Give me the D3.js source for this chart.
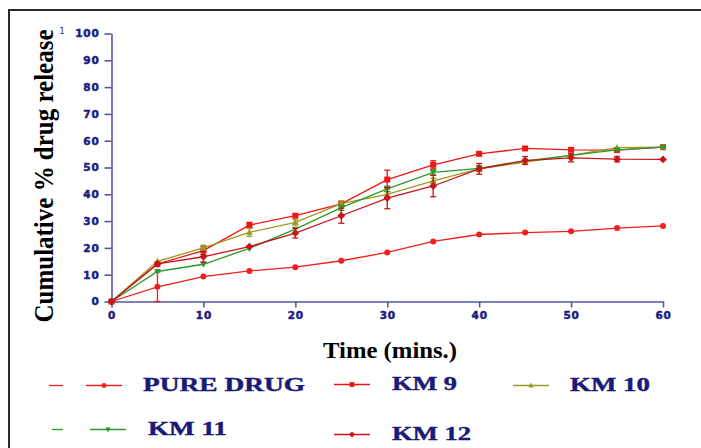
<!DOCTYPE html>
<html>
<head>
<meta charset="utf-8">
<script src="https://d3js.org/d3.v7.min.js"></script>
<style>
  body { margin: 0; background: #fff; }
  svg { display: block; }
</style>
</head>
<body>
<div id="container"></div>
<script>
var width = 701, height = 448;

// Data
var times = [0, 5, 10, 15, 20, 25, 30, 35, 40, 45, 50, 55, 60];
var pureDrug = [0, 5.5, 9.3, 11.4, 12.8, 15.2, 18.3, 22.4, 25.0, 25.7, 26.2, 27.4, 28.2];
var pureDrugErr = [0, 5.5, 0.4, 0.8, 0.5, 0.8, 0.5, 0.5, 0.4, 0.4, 0.4, 0.4, 0.4];
var km9 = [0, 14, 19, 28.5, 32, 36.4, 45.5, 51, 55.1, 57.1, 56.6, 56.5, 57.6];
var km9Err = [0, 0.5, 1.5, 1, 0.6, 1, 3.5, 1.5, 0.5, 0.5, 0.6, 0.5, 0.5];
var km10 = [0, 15, 20, 25.8, 29.5, 36.5, 40, 45, 49.5, 52, 54.5, 57.4, 57.6];
var km10Err = [0, 0.5, 1, 1.5, 1, 1, 1, 1, 1, 0.8, 0.8, 0.8, 0.5];
var km11 = [0, 11.2, 13.9, 19.8, 27, 35, 42, 48.2, 49.7, 52.5, 54.5, 56.6, 57.6];
var km11Err = [0, 0.5, 0.5, 0.8, 0.8, 1, 1, 1, 1, 0.8, 0.8, 0.8, 0.5];
var km12 = [0, 14, 16.7, 20.5, 25.5, 32, 38.6, 43.1, 49.5, 52.6, 53.6, 53.1, 53];
var km12Err = [0, 0.5, 2, 0.5, 1.8, 2.8, 4, 4, 2, 1.5, 1.5, 1, 0.5];
var seriesNames = ["PURE DRUG", "KM 9", "KM 10", "KM 11", "KM 12"];
var xTicks = [0, 10, 20, 30, 40, 50, 60];
var yTicks = [0, 10, 20, 30, 40, 50, 60, 70, 80, 90, 100];

var series = [
  {name: seriesNames[0], values: pureDrug, err: pureDrugErr, color: "#f41c1c", marker: "circle"},
  {name: seriesNames[1], values: km9, err: km9Err, color: "#ee1515", marker: "square"},
  {name: seriesNames[2], values: km10, err: km10Err, color: "#9c9a1e", marker: "triangleUp"},
  {name: seriesNames[3], values: km11, err: km11Err, color: "#2c9a2c", marker: "triangleDown"},
  {name: seriesNames[4], values: km12, err: km12Err, color: "#c8141c", marker: "diamond"}
];

var svg = d3.select("#container").append("svg")
    .attr("width", width)
    .attr("height", height);

//Frame (only top and left edges are visible)
svg.append("path")
    .attr("d", "M9,448V10H701")
    .attr("fill", "none")
    .attr("stroke", "#2a2a2a")
    .attr("stroke-width", 2);

var x = d3.scaleLinear().domain([0, 60]).range([111.5, 663]);
var y = d3.scaleLinear().domain([0, 100]).range([301.5, 33.5]);

var axisColor = "#5656a0", labelColor = "#1c1c82";

//Axes
var xAxis = svg.append("g")
    .attr("transform", "translate(0," + y(0) + ")")
    .call(d3.axisBottom(x).tickValues(xTicks).tickSize(6).tickSizeOuter(0).tickPadding(4));
var yAxis = svg.append("g")
    .attr("transform", "translate(" + x(0) + ",0)")
    .call(d3.axisLeft(y).tickValues(yTicks).tickSize(7).tickSizeOuter(0).tickPadding(5));

[xAxis, yAxis].forEach(function(ax) {
  ax.select(".domain").attr("stroke", axisColor).attr("stroke-width", 1.6);
  ax.selectAll(".tick line").attr("stroke", axisColor).attr("stroke-width", 1.6);
  ax.selectAll(".tick text")
      .attr("fill", labelColor)
      .attr("stroke", labelColor)
      .attr("stroke-width", 0.5)
      .style("font-family", "'DejaVu Sans', sans-serif")
      .style("font-weight", "bold")
      .style("font-size", "10.5px")
      .style("letter-spacing", "0.8px");
});

//Small stray label top-left
svg.append("text")
    .attr("x", 62).attr("y", 34)
    .attr("text-anchor", "middle")
    .attr("fill", labelColor)
    .style("font-family", "'DejaVu Sans', sans-serif")
    .style("font-size", "8px")
    .text("1");

//Axis titles
svg.append("text")
    .attr("transform", "translate(53,176) rotate(-90)")
    .attr("text-anchor", "middle")
    .attr("textLength", 293)
    .attr("lengthAdjust", "spacingAndGlyphs")
    .style("font-family", "'Liberation Serif', 'Times New Roman', serif")
    .style("font-weight", "bold")
    .style("font-size", "27px")
    .text("Cumulative % drug release");

svg.append("text")
    .attr("x", 390).attr("y", 358)
    .attr("text-anchor", "middle")
    .attr("textLength", 134)
    .attr("lengthAdjust", "spacingAndGlyphs")
    .style("font-family", "'Liberation Serif', 'Times New Roman', serif")
    .style("font-weight", "bold")
    .style("font-size", "24px")
    .text("Time (mins.)");

//Markers
function markerPath(type, size) {
  var s = size;
  if (type === "square") return "M" + (-s) + "," + (-s) + "H" + s + "V" + s + "H" + (-s) + "Z";
  if (type === "triangleUp") return "M0," + (-s * 1.2) + "L" + s * 1.1 + "," + s * 0.8 + "H" + (-s * 1.1) + "Z";
  if (type === "triangleDown") return "M0," + (s * 1.2) + "L" + s * 1.1 + "," + (-s * 0.8) + "H" + (-s * 1.1) + "Z";
  if (type === "diamond") return "M0," + (-s * 1.3) + "L" + s * 1.3 + ",0L0," + s * 1.3 + "L" + (-s * 1.3) + ",0Z";
  return d3.symbol().type(d3.symbolCircle).size(Math.PI * s * s)();
}

var line = d3.line()
    .x(function(d) { return x(d.t); })
    .y(function(d) { return y(d.v); });

var plot = svg.append("g").attr("class", "plot");

series.forEach(function(s) {
  var pts = times.map(function(t, i) { return {t: t, v: s.values[i], e: s.err[i]}; });
  var g = plot.append("g");

  g.append("path")
      .datum(pts)
      .attr("d", line)
      .attr("fill", "none")
      .attr("stroke", s.color)
      .attr("stroke-width", 1.3);

  //Error bars
  var eb = g.selectAll(".err").data(pts.filter(function(d) { return d.e > 0.9; }))
      .enter().append("g");
  eb.append("line")
      .attr("x1", function(d) { return x(d.t); })
      .attr("x2", function(d) { return x(d.t); })
      .attr("y1", function(d) { return y(d.v - d.e); })
      .attr("y2", function(d) { return y(d.v + d.e); })
      .attr("stroke", s.color).attr("stroke-width", 1.3);
  [-1, 1].forEach(function(sign) {
    eb.append("line")
        .attr("x1", function(d) { return x(d.t) - 3; })
        .attr("x2", function(d) { return x(d.t) + 3; })
        .attr("y1", function(d) { return y(d.v + sign * d.e); })
        .attr("y2", function(d) { return y(d.v + sign * d.e); })
        .attr("stroke", s.color).attr("stroke-width", 1.3);
  });

  g.selectAll(".pt").data(pts)
      .enter().append("path")
      .attr("transform", function(d) { return "translate(" + x(d.t) + "," + y(d.v) + ")"; })
      .attr("d", markerPath(s.marker, 3))
      .attr("fill", s.color);
});

//Legend
var legendItems = [
  {i: 0, lx: 86, tx: 143, ty: 391, tl: 162, stub: [49, 63]},
  {i: 1, lx: 334, tx: 392, ty: 390, tl: 65},
  {i: 2, lx: 513, tx: 570, ty: 391, tl: 80},
  {i: 3, lx: 90, tx: 148, ty: 435, tl: 79, stub: [52, 63]},
  {i: 4, lx: 334, tx: 392, ty: 440, tl: 79}
];

var legend = svg.append("g").attr("class", "legend");
legendItems.forEach(function(it) {
  var s = series[it.i];
  var ly = it.ty - 5.5;
  var lg = legend.append("g");
  if (it.stub) {
    lg.append("line")
        .attr("x1", it.stub[0]).attr("x2", it.stub[1])
        .attr("y1", ly).attr("y2", ly)
        .attr("stroke", s.color).attr("stroke-width", 1.3);
  }
  lg.append("line")
      .attr("x1", it.lx).attr("x2", it.lx + 36)
      .attr("y1", ly).attr("y2", ly)
      .attr("stroke", s.color).attr("stroke-width", 1.3);
  lg.append("path")
      .attr("transform", "translate(" + (it.lx + 18) + "," + ly + ")")
      .attr("d", markerPath(s.marker, 2.4))
      .attr("fill", s.color);
  lg.append("text")
      .attr("x", it.tx).attr("y", it.ty)
      .attr("textLength", it.tl)
      .attr("lengthAdjust", "spacingAndGlyphs")
      .attr("fill", "#1a1a78")
      .attr("stroke", "#1a1a78")
      .attr("stroke-width", 0.4)
      .style("font-family", "'Liberation Serif', 'Times New Roman', serif")
      .style("font-weight", "bold")
      .style("font-size", "18px")
      .text(s.name);
});
</script>
</body>
</html>
